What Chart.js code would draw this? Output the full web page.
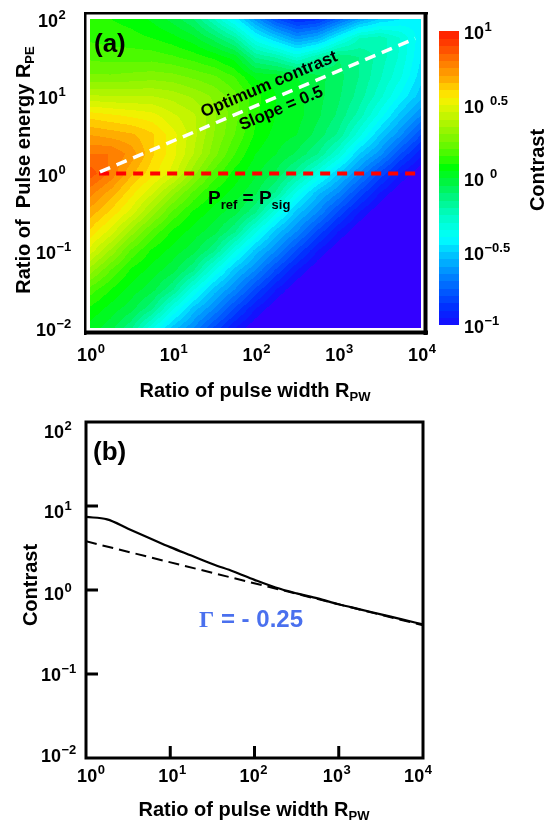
<!DOCTYPE html>
<html>
<head>
<meta charset="utf-8">
<script src="https://cdn.jsdelivr.net/npm/chart.js@4.4.1/dist/chart.umd.min.js"></script>
<style>
  html, body { margin: 0; padding: 0; background: #fff; }
  #wrap { position: relative; width: 547px; height: 828px; overflow: hidden; background: #fff; }
  canvas { position: absolute; }
</style>
</head>
<body>
<div id="wrap">
  <canvas id="mapChart" width="547" height="410" style="left:0px;top:0px"></canvas>
  <canvas id="barChart" width="117" height="410" style="left:430px;top:0px"></canvas>
  <canvas id="lineChart" width="547" height="418" style="left:0px;top:410px"></canvas>
</div>
<script>
// ---------- (a) contrast map ----------
// grid node exponents: log10(R_PW) left to right, log10(R_PE) top to bottom
const rpwExp = [0, 0.25, 0.5, 0.75, 1, 1.25, 1.5, 1.75, 2, 2.25, 2.5, 2.75, 3, 3.25, 3.5, 3.75, 4];
const rpeExp = [2, 1.75, 1.5, 1.25, 1, 0.75, 0.5, 0.25, 0, -0.25, -0.5, -0.75, -1, -1.25, -1.5, -1.75, -2];

// log10(contrast); one column per R_PW node, R_PE from 10^2 down to 10^-2
const logContrastCols = [
  [0.12, 0.14, 0.19, 0.26, 0.41, 0.58, 0.70, 0.80, 0.88, 0.77, 0.68, 0.59, 0.48, 0.33, 0.18, 0.09, 0.03],
  [0.10, 0.13, 0.18, 0.26, 0.40, 0.56, 0.68, 0.80, 0.79, 0.68, 0.59, 0.48, 0.34, 0.20, 0.10, 0.03, -0.03],
  [0.08, 0.12, 0.18, 0.27, 0.40, 0.54, 0.66, 0.73, 0.66, 0.57, 0.48, 0.33, 0.19, 0.09, 0.03, -0.03, -0.14],
  [0.04, 0.10, 0.18, 0.28, 0.40, 0.52, 0.61, 0.61, 0.57, 0.46, 0.33, 0.19, 0.09, 0.03, -0.03, -0.14, -0.34],
  [-0.02, 0.07, 0.16, 0.27, 0.38, 0.46, 0.52, 0.52, 0.48, 0.32, 0.19, 0.09, 0.03, -0.03, -0.14, -0.34, -0.52],
  [-0.10, 0.02, 0.13, 0.24, 0.34, 0.41, 0.42, 0.40, 0.32, 0.19, 0.09, 0.03, -0.03, -0.14, -0.34, -0.52, -0.65],
  [-0.25, -0.07, 0.09, 0.21, 0.29, 0.31, 0.30, 0.27, 0.18, 0.09, 0.03, -0.03, -0.14, -0.34, -0.52, -0.65, -0.81],
  [-0.42, -0.18, 0.03, 0.15, 0.22, 0.22, 0.20, 0.15, 0.08, 0.03, -0.03, -0.14, -0.34, -0.52, -0.65, -0.81, -0.95],
  [-0.62, -0.38, -0.15, 0.04, 0.12, 0.11, 0.09, 0.05, 0.01, -0.04, -0.14, -0.34, -0.52, -0.65, -0.81, -0.95, -1.05],
  [-0.80, -0.50, -0.20, 0.03, 0.05, 0.05, 0.03, 0.00, -0.06, -0.16, -0.34, -0.52, -0.65, -0.81, -0.95, -1.05, -1.12],
  [-0.90, -0.62, -0.30, 0.00, 0.02, 0.02, 0.00, -0.06, -0.18, -0.36, -0.52, -0.65, -0.81, -0.95, -1.05, -1.12, -1.20],
  [-0.87, -0.56, -0.20, -0.03, -0.03, -0.04, -0.07, -0.15, -0.33, -0.53, -0.65, -0.81, -0.95, -1.05, -1.12, -1.20, -1.25],
  [-0.74, -0.40, -0.10, -0.08, -0.09, -0.11, -0.16, -0.30, -0.50, -0.65, -0.81, -0.95, -1.05, -1.12, -1.20, -1.25, -1.30],
  [-0.60, -0.25, -0.15, -0.15, -0.17, -0.22, -0.33, -0.50, -0.65, -0.81, -0.95, -1.05, -1.12, -1.20, -1.25, -1.30, -1.30],
  [-0.50, -0.22, -0.22, -0.24, -0.28, -0.37, -0.50, -0.63, -0.81, -0.95, -1.05, -1.12, -1.20, -1.25, -1.30, -1.30, -1.30],
  [-0.45, -0.30, -0.31, -0.34, -0.41, -0.52, -0.64, -0.80, -0.95, -1.05, -1.12, -1.20, -1.25, -1.30, -1.30, -1.30, -1.30],
  [-0.42, -0.43, -0.45, -0.48, -0.53, -0.65, -0.80, -0.94, -1.05, -1.12, -1.20, -1.25, -1.30, -1.30, -1.30, -1.30, -1.30]
];

// optimum-contrast guide (slope 0.5) and the P_ref = P_sig line
const optLineRPW = [1.32, 8500];
const optLineRPE = [1.05, 56];
const refLineRPW = [1.29, 10000];
const refLineRPE = [1, 1];

// axis decades (exponents)
const mapXTickExp = [0, 1, 2, 3, 4];
const mapYTickExp = [2, 1, 0, -1, -2];
const barTickExp = [1, 0.5, 0, -0.5, -1];

// ---------- (b) contrast along the optimum line ----------
const pwSamples = [1, 1.78, 3.16, 5.62, 10, 17.8, 31.6, 56.2, 100, 178, 316, 562, 1000, 1778, 3162, 5623, 10000];
const contrastCurve = [7.41, 6.92, 5.37, 4.17, 3.24, 2.57, 2.04, 1.66, 1.32, 1.07, 0.912, 0.794, 0.676, 0.589, 0.513, 0.447, 0.389];
const fitRPW = [1, 10000];
const fitContrast = [3.8, 0.38];
const lineXTickExp = [0, 1, 2, 3, 4];
const lineYTickExp = [2, 1, 0, -1, -2];

// ---------- shared drawing helpers ----------
const FAMILY = "'Liberation Sans', Arial, Helvetica, sans-serif";
const bold = (s) => `bold ${s}px ${FAMILY}`;

// jet-like colour scale over log10(contrast)
const cmapStops = [
  [-1.02, [30, 10, 255]], [-0.96, [15, 20, 255]], [-0.87, [0, 50, 255]], [-0.78, [0, 85, 255]],
  [-0.68, [0, 125, 255]], [-0.59, [0, 165, 255]], [-0.50, [0, 205, 255]], [-0.41, [0, 255, 255]],
  [-0.34, [0, 255, 230]], [-0.25, [0, 252, 195]], [-0.13, [0, 245, 130]], [-0.02, [0, 245, 60]],
  [0.08, [0, 255, 0]], [0.14, [55, 252, 0]], [0.21, [95, 248, 0]], [0.30, [140, 245, 0]],
  [0.40, [185, 245, 0]], [0.49, [225, 245, 0]], [0.55, [250, 240, 0]], [0.60, [255, 215, 0]],
  [0.67, [255, 175, 0]], [0.75, [255, 140, 0]], [0.83, [255, 105, 0]], [0.92, [255, 60, 0]],
  [1.02, [255, 20, 0]]
];
const UNDER_COLOR = [51, 0, 255];
const LEVEL_STEP = 0.05, LEVEL_MIN = -1, LEVEL_COUNT = 40;

function cmap(L) {
  if (L <= cmapStops[0][0]) return cmapStops[0][1];
  for (let i = 0; i < cmapStops.length - 1; i++) {
    const [a, ca] = cmapStops[i], [b, cb] = cmapStops[i + 1];
    if (L <= b) {
      const t = (L - a) / (b - a);
      return [0, 1, 2].map(k => Math.round(ca[k] + (cb[k] - ca[k]) * t));
    }
  }
  return cmapStops[cmapStops.length - 1][1];
}
function levelColor(L) {
  if (L < LEVEL_MIN) return UNDER_COLOR;
  const k = Math.min(LEVEL_COUNT - 1, Math.floor((L - LEVEL_MIN) / LEVEL_STEP + 1e-9));
  return cmap(LEVEL_MIN + LEVEL_STEP * (k + 0.5));
}
function locate(nodes, val) {
  const n = nodes.length;
  const asc = nodes[n - 1] > nodes[0];
  for (let i = 0; i < n - 1; i++) {
    const a = nodes[i], b = nodes[i + 1];
    if ((asc && val <= b) || (!asc && val >= b)) {
      return [i, Math.min(1, Math.max(0, (val - a) / (b - a)))];
    }
  }
  return [n - 2, 1];
}
function expText(e) { return e < 0 ? '\u2212' + Math.abs(e) : String(e); }

// "10" with a raised exponent; cy is the vertical centre of the "10"
function drawPower(ctx, e, x, cy, align, gap) {
  const base = '10', sup = expText(e), g = gap || 0.5;
  ctx.font = bold(18); const bw = ctx.measureText(base).width;
  ctx.font = bold(13); const sw = ctx.measureText(sup).width;
  const left = align === 'center' ? x - (bw + g + sw) / 2 : x;
  ctx.fillStyle = '#000';
  ctx.textAlign = 'left'; ctx.textBaseline = 'alphabetic';
  ctx.font = bold(18); ctx.fillText(base, left, cy + 6.5);
  ctx.font = bold(13); ctx.fillText(sup, left + bw + g, cy - 1.5);
}
// text runs with their own font and baseline shift, e.g. subscripts
function drawRuns(ctx, runs, x, y, align) {
  let total = 0;
  runs.forEach(r => { ctx.font = r.font; r.w = ctx.measureText(r.t).width; total += r.w; });
  let cx = align === 'center' ? x - total / 2 : x;
  ctx.textAlign = 'left'; ctx.textBaseline = 'alphabetic';
  runs.forEach(r => { ctx.font = r.font; ctx.fillText(r.t, cx, y + (r.dy || 0)); cx += r.w; });
}

// ---------- (a) plugins ----------
const heatmapPlugin = {
  id: 'heatmap',
  beforeDatasetsDraw(chart) {
    const { ctx, chartArea: a, scales: { x, y } } = chart;
    const left = Math.round(a.left), top = Math.round(a.top);
    const w = Math.round(a.right) - left, h = Math.round(a.bottom) - top;
    const img = ctx.createImageData(w, h);
    const colPos = [], rowPos = [];
    for (let i = 0; i < w; i++) colPos.push(locate(rpwExp, Math.log10(x.getValueForPixel(left + i + 0.5))));
    for (let j = 0; j < h; j++) rowPos.push(locate(rpeExp, Math.log10(y.getValueForPixel(top + j + 0.5))));
    for (let j = 0; j < h; j++) {
      const [r, tv] = rowPos[j];
      for (let i = 0; i < w; i++) {
        const [c, tu] = colPos[i];
        const c0 = logContrastCols[c], c1 = logContrastCols[c + 1];
        const L = (1 - tu) * (1 - tv) * c0[r] + tu * (1 - tv) * c1[r] + (1 - tu) * tv * c0[r + 1] + tu * tv * c1[r + 1];
        const col = levelColor(L);
        const p = (j * w + i) * 4;
        img.data[p] = col[0]; img.data[p + 1] = col[1]; img.data[p + 2] = col[2]; img.data[p + 3] = 255;
      }
    }
    ctx.putImageData(img, left, top);
  }
};

const mapDecor = {
  id: 'mapDecor',
  afterDraw(chart) {
    const { ctx, scales: { x, y } } = chart;
    ctx.save();
    ctx.fillStyle = '#000';
    // frame with heavier right/bottom edges
    ctx.fillRect(84, 12, 2.5, 323);
    ctx.fillRect(84, 12, 344, 2.5);
    ctx.fillRect(423.5, 12, 4, 323);
    ctx.fillRect(84, 330.5, 344, 4);

    mapYTickExp.forEach(e => {
      drawPower(ctx, e, e < 0 ? 36 : 38, y.getPixelForValue(Math.pow(10, e)) + 1.5, 'left');
    });
    mapXTickExp.forEach(e => {
      drawPower(ctx, e, x.getPixelForValue(Math.pow(10, e)) + 1, 354.5, 'center');
    });

    ctx.fillStyle = '#000';
    drawRuns(ctx, [{ t: 'Ratio of pulse width R', font: bold(20) }, { t: 'PW', font: bold(13), dy: 4 }], 255, 397, 'center');

    ctx.save();
    ctx.translate(30, 170);
    ctx.rotate(-Math.PI / 2);
    drawRuns(ctx, [{ t: 'Ratio of  Pulse energy R', font: bold(20) }, { t: 'PE', font: bold(13), dy: 4 }], 0, 0, 'center');
    ctx.restore();

    ctx.font = bold(26); ctx.textAlign = 'left'; ctx.textBaseline = 'alphabetic';
    ctx.fillText('(a)', 94, 52);

    ctx.save();
    ctx.translate(271, 89); ctx.rotate(-23 * Math.PI / 180);
    ctx.font = bold(17); ctx.textAlign = 'center';
    ctx.fillText('Optimum contrast', 0, 0);
    ctx.restore();
    ctx.save();
    ctx.translate(283, 113); ctx.rotate(-23 * Math.PI / 180);
    ctx.font = bold(17); ctx.textAlign = 'center';
    ctx.fillText('Slope = 0.5', 0, 0);
    ctx.restore();

    drawRuns(ctx, [
      { t: 'P', font: bold(19) }, { t: 'ref', font: bold(13), dy: 5 },
      { t: ' = P', font: bold(19) }, { t: 'sig', font: bold(13), dy: 5 }
    ], 208, 204, 'left');
    ctx.restore();
  }
};

const xy = (xs, ys) => xs.map((v, i) => ({ x: v, y: ys[i] }));

new Chart(document.getElementById('mapChart'), {
  type: 'scatter',
  data: {
    datasets: [
      { data: xy(optLineRPW, optLineRPE), showLine: true, borderColor: '#ffffff', borderWidth: 3.5, borderDash: [11, 7], pointRadius: 0 },
      { data: xy(refLineRPW, refLineRPE), showLine: true, borderColor: '#ff0000', borderWidth: 4, borderDash: [10, 7], pointRadius: 0 }
    ]
  },
  options: {
    responsive: false, animation: false, events: [],
    layout: { padding: { left: 90, right: 126, top: 19, bottom: 82 } },
    scales: {
      x: { type: 'logarithmic', min: 1, max: 10000, display: false },
      y: { type: 'logarithmic', min: 0.01, max: 100, display: false }
    },
    plugins: { legend: { display: false }, tooltip: { enabled: false } }
  },
  plugins: [heatmapPlugin, mapDecor]
});

// ---------- colour bar ----------
const colorBarPlugin = {
  id: 'colorBar',
  beforeDatasetsDraw(chart) {
    const { ctx, chartArea: a, scales: { y } } = chart;
    ctx.save();
    for (let k = 0; k < LEVEL_COUNT; k++) {
      const lo = LEVEL_MIN + LEVEL_STEP * k, hi = lo + LEVEL_STEP;
      const y0 = y.getPixelForValue(Math.pow(10, lo)), y1 = y.getPixelForValue(Math.pow(10, hi));
      const c = cmap(lo + LEVEL_STEP / 2);
      ctx.fillStyle = `rgb(${c[0]},${c[1]},${c[2]})`;
      ctx.fillRect(a.left, Math.floor(y1), a.right - a.left, Math.ceil(y0) - Math.floor(y1));
    }
    barTickExp.forEach(e => {
      const gap = (e === 0 || e === 0.5) ? 6 : 0.5;
      drawPower(ctx, e, 34, y.getPixelForValue(Math.pow(10, e)) + 1.5, 'left', gap);
    });
    ctx.translate(114, 170);
    ctx.rotate(-Math.PI / 2);
    ctx.fillStyle = '#000';
    ctx.font = bold(20); ctx.textAlign = 'center'; ctx.textBaseline = 'alphabetic';
    ctx.fillText('Contrast', 0, 0);
    ctx.restore();
  }
};

new Chart(document.getElementById('barChart'), {
  type: 'scatter',
  data: { datasets: [] },
  options: {
    responsive: false, animation: false, events: [],
    layout: { padding: { left: 9, right: 88, top: 31, bottom: 85 } },
    scales: {
      x: { type: 'linear', min: 0, max: 1, display: false },
      y: { type: 'logarithmic', min: 0.1, max: 10, display: false }
    },
    plugins: { legend: { display: false }, tooltip: { enabled: false } }
  },
  plugins: [colorBarPlugin]
});

// ---------- (b) ----------
const lineXLabelShift = [5, 2, -1, -2, -5];
const lineYLabelShift = [9, 5, 3, 0, -3];

const lineDecor = {
  id: 'lineDecor',
  afterDraw(chart) {
    const { ctx, chartArea: a, scales: { x, y } } = chart;
    ctx.save();
    ctx.strokeStyle = '#000'; ctx.fillStyle = '#000';
    ctx.lineWidth = 3;
    ctx.strokeRect(a.left, a.top, a.right - a.left, a.bottom - a.top);
    ctx.beginPath();
    lineYTickExp.slice(1, -1).forEach(e => {
      const py = y.getPixelForValue(Math.pow(10, e));
      ctx.moveTo(a.left, py); ctx.lineTo(a.left + 12, py);
    });
    lineXTickExp.slice(1, -1).forEach(e => {
      const px = x.getPixelForValue(Math.pow(10, e));
      ctx.moveTo(px, a.bottom); ctx.lineTo(px, a.bottom - 12);
    });
    ctx.stroke();

    lineYTickExp.forEach((e, i) => {
      drawPower(ctx, e, e < 0 ? 41 : 44, y.getPixelForValue(Math.pow(10, e)) + lineYLabelShift[i], 'left');
    });
    lineXTickExp.forEach((e, i) => {
      drawPower(ctx, e, x.getPixelForValue(Math.pow(10, e)) + lineXLabelShift[i], 365, 'center');
    });

    ctx.fillStyle = '#000';
    drawRuns(ctx, [{ t: 'Ratio of pulse width R', font: bold(20) }, { t: 'PW', font: bold(13), dy: 4 }], 254, 406, 'center');

    ctx.save();
    ctx.translate(37, 175);
    ctx.rotate(-Math.PI / 2);
    ctx.font = bold(20); ctx.textAlign = 'center'; ctx.textBaseline = 'alphabetic';
    ctx.fillText('Contrast', 0, 0);
    ctx.restore();

    ctx.font = bold(26); ctx.textAlign = 'left';
    ctx.fillText('(b)', 93, 50);

    ctx.fillStyle = '#4a70ee';
    drawRuns(ctx, [
      { t: '\u0393', font: `bold 24px 'Liberation Serif', 'Times New Roman', serif` },
      { t: ' = - 0.25', font: bold(24) }
    ], 199, 217, 'left');
    ctx.restore();
  }
};

new Chart(document.getElementById('lineChart'), {
  type: 'scatter',
  data: {
    datasets: [
      { data: xy(pwSamples, contrastCurve), showLine: true, borderColor: '#000', borderWidth: 2.2, pointRadius: 0, cubicInterpolationMode: 'monotone' },
      { data: xy(fitRPW, fitContrast), showLine: true, borderColor: '#000', borderWidth: 2, borderDash: [11, 6], pointRadius: 0 }
    ]
  },
  options: {
    responsive: false, animation: false, events: [],
    layout: { padding: { left: 86, right: 124, top: 12, bottom: 70 } },
    scales: {
      x: { type: 'logarithmic', min: 1, max: 10000, display: false },
      y: { type: 'logarithmic', min: 0.01, max: 100, display: false }
    },
    plugins: { legend: { display: false }, tooltip: { enabled: false } }
  },
  plugins: [lineDecor]
});
</script>
</body>
</html>
